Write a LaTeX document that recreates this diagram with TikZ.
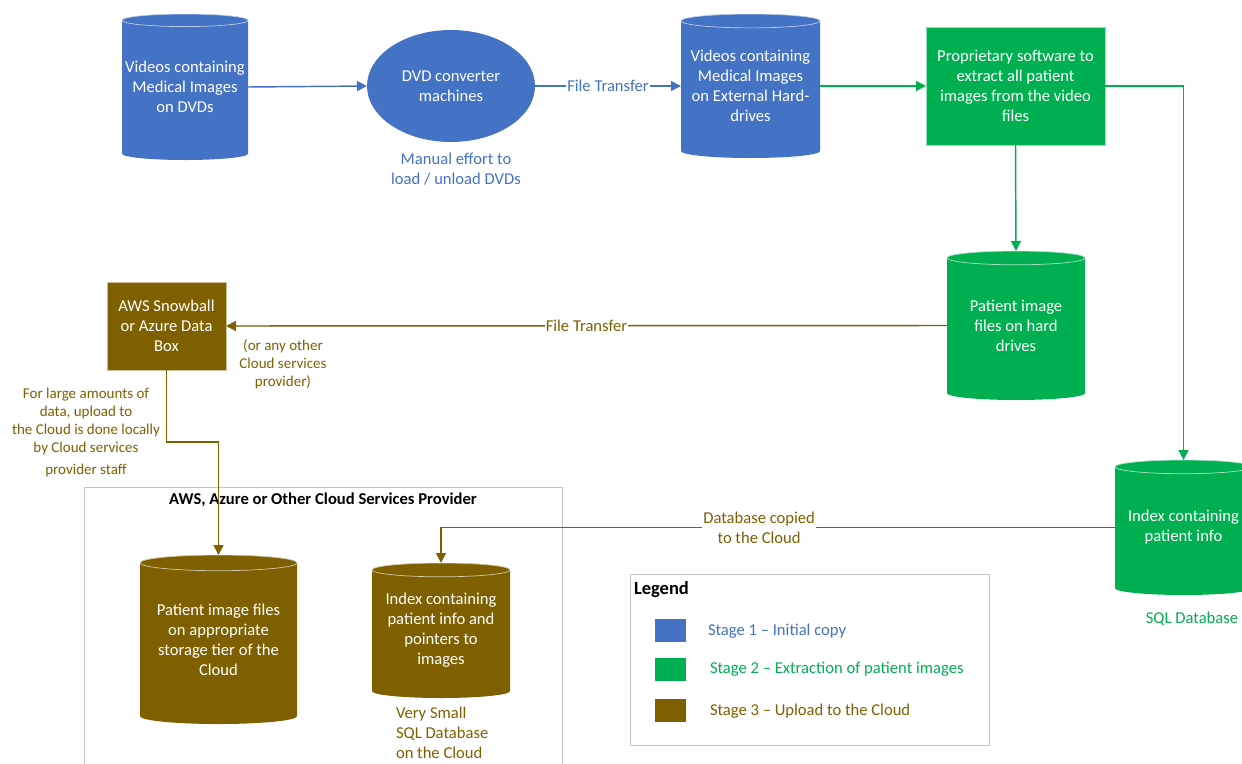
\documentclass[tikz,border=0pt]{standalone}
\usepackage{fontspec}
\setmainfont{Carlito}
\usetikzlibrary{arrows.meta,calc,shapes.geometric}
\definecolor{sblue}{HTML}{4472C4}
\definecolor{sgreen}{HTML}{00B050}
\definecolor{sbrown}{HTML}{7F6000}
\definecolor{boxgray}{HTML}{C4C4C4}
\begin{document}
\begin{tikzpicture}[x=1pt,y=-1pt,
  font=\fontsize{16.6}{20}\selectfont,
  every node/.style={inner sep=0pt, outer sep=0pt},
  conn/.style={line width=1.45pt, -{Triangle[length=10pt,width=10pt]}},
  dbcyl/.style={shape=rectangle, align=center, text=white,
    path picture={
      \fill[#1] let \p1=(path picture bounding box.south west),
                    \p2=(path picture bounding box.north east),
                    \n1={(\x2-\x1)/2}, \n2={(\x2-\x1)/20} in
        (\x1,\y2-\n2) -- (\x1,\y1+\n2)
        arc[start angle=180,end angle=360,x radius=\n1,y radius=\n2]
        -- (\x2,\y2-\n2)
        arc[start angle=0,end angle=180,x radius=\n1,y radius=\n2] -- cycle;
      \draw[white!65!#1, line width=0.7pt] let \p1=(path picture bounding box.south west),
                    \p2=(path picture bounding box.north east),
                    \n1={(\x2-\x1)/2}, \n2={(\x2-\x1)/20} in
        (0.5*\x1+0.5*\x2,\y2-\n2) ellipse[x radius=\n1,y radius=\n2];
    }},
  procbox/.style={shape=rectangle, align=center, text=white, fill=#1, draw=white!60!#1, line width=0.6pt},
  lbl/.style={align=center, text=#1},
  smalllbl/.style={align=center, text=#1, font=\fontsize{15}{18}\selectfont},
  tlbl/.style={fill=white, text=#1, inner xsep=1pt, inner ysep=1pt, align=center},
  legsq/.style={shape=rectangle, fill=#1, minimum width=31pt, minimum height=23pt}
]
\clip (0,0) rectangle (1242,763);
\fill[white] (0,0) rectangle (1242,763);

% Stage 1
\node[dbcyl=sblue, minimum width=126pt, minimum height=146pt] (c1) at (185,87)
  {Videos containing\\Medical Images\\on DVDs};
\node[ellipse, fill=sblue, text=white, align=center, minimum width=168pt, minimum height=112pt] (conv) at (451,86)
  {DVD converter\\machines};
\node[lbl=sblue] (manual) at (456,169) {Manual effort to\\load / unload DVDs};
\node[dbcyl=sblue, minimum width=139pt, minimum height=144pt] (c2) at (750.5,86)
  {Videos containing\\Medical Images\\on External Hard-\\drives};

% Stage 2
\node[procbox=sgreen, minimum width=179pt, minimum height=118pt] (sw) at (1015.5,86)
  {Proprietary software to\\extract all patient\\images from the video\\files};
\node[dbcyl=sgreen, minimum width=138pt, minimum height=149pt] (c3) at (1016,325.5)
  {Patient image\\files on hard\\drives};
\node[dbcyl=sgreen, minimum width=137pt, minimum height=135pt] (c4) at (1183.5,527.5)
  {Index containing\\patient info};
\node[lbl=sgreen] (sqldb) at (1192,619) {SQL Database};

% Stage 3
\node[procbox=sbrown, minimum width=119pt, minimum height=88pt] (snow) at (166.5,326)
  {AWS Snowball\\or Azure Data\\Box};
\node[smalllbl=sbrown] (other) at (283,364) {(or any other\\Cloud services\\provider)};
\node[smalllbl=sbrown] (large) at (86,421) {For large amounts of\\data, upload to\\the Cloud is done locally\\by Cloud services};
\node[smalllbl=sbrown] (staff) at (86,470) {provider staff};

\draw[boxgray, line width=0.8pt] (84,487) rectangle (562,775);
\node[font=\fontsize{16.6}{20}\selectfont\bfseries, text=black] (cloudtitle) at (323,500)
  {AWS, Azure or Other Cloud Services Provider};
\node[dbcyl=sbrown, minimum width=157pt, minimum height=169pt] (c5) at (218.5,639.5)
  {Patient image files\\on appropriate\\storage tier of the\\Cloud};
\node[dbcyl=sbrown, minimum width=138pt, minimum height=135pt] (c6) at (441,630.5)
  {Index containing\\patient info and\\pointers to\\images};
\node[lbl=sbrown, align=left, anchor=west] (small) at (396,733)
  {Very Small\\SQL Database\\on the Cloud};

% Connectors
\draw[conn, sblue] (c1.east) -- (conv.west);
\draw[conn, sblue] (conv.east) -- node[tlbl=sblue] {File Transfer} (c2.west);
\draw[conn, sgreen] (c2.east) -- (sw.west);
\draw[conn, sgreen] (sw.east) -| (c4.north);
\draw[conn, sgreen] (sw.south) -- (c3.north);
\draw[conn, sbrown] (c3.west) -- node[tlbl=sbrown, pos=0.5] {File Transfer} (snow.east);
\coordinate (bend) at (190,442);
\draw[conn, sbrown] (snow.south) |- (bend) -| (c5.north);
\draw[conn, sbrown] (c4.west) -| node[tlbl=sbrown, pos=0.264] {Database copied\\to the Cloud} (c6.north);

% Legend
\draw[boxgray, line width=0.8pt] (630,574) rectangle (989,745);
\node[anchor=west, font=\fontsize{18.5}{20}\selectfont\bfseries, text=black] (legend) at (634,590) {Legend};
\node[legsq=sblue] (sq1) at (670.5,630.5) {};
\node[legsq=sgreen] (sq2) at (670.5,669.5) {};
\node[legsq=sbrown] (sq3) at (670.5,710.5) {};
\node[anchor=west, text=sblue] (l1) at (708,631) {Stage 1 – Initial copy};
\node[anchor=west, text=sgreen] (l2) at (710,669) {Stage 2 – Extraction of patient images};
\node[anchor=west, text=sbrown] (l3) at (710,711) {Stage 3 – Upload to the Cloud};
\end{tikzpicture}
\end{document}
